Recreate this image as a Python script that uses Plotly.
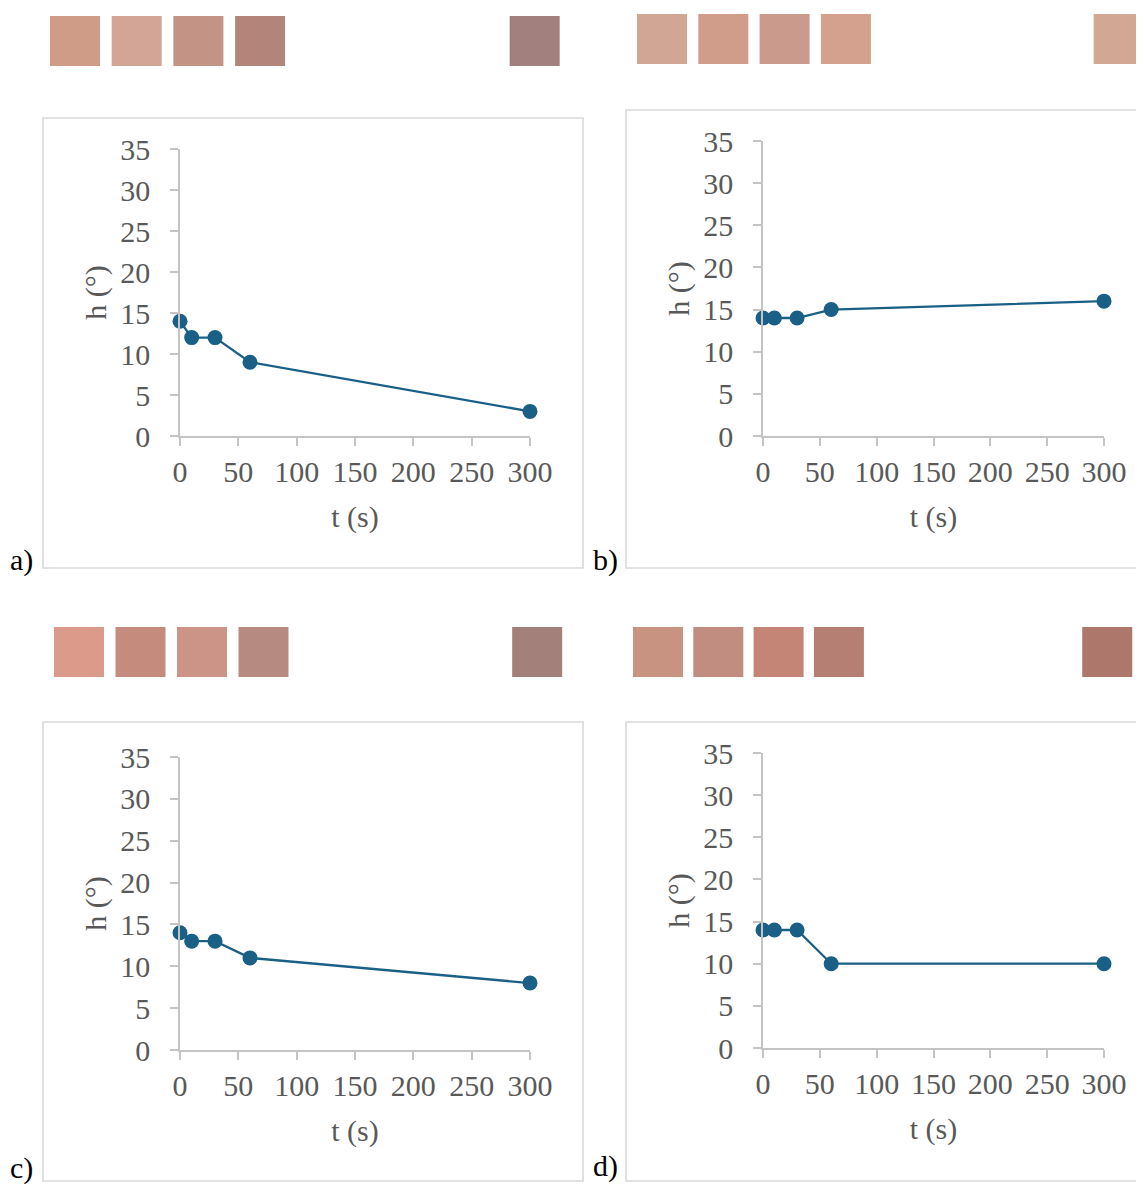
import plotly.graph_objects as go

# the page is shown with an 8px body margin; coordinates below are screen pixels
OFF = 8
W, H = 1144 - OFF, 1184 - OFF

# ---- data ----
t_values = [0, 10, 30, 60, 300]
h_a = [14, 12, 12, 9, 3]
h_b = [14, 14, 14, 15, 16]
h_c = [14, 13, 13, 11, 8]
h_d = [14, 14, 14, 10, 10]
panel_labels = ["a)", "b)", "c)", "d)"]
x_title = "t (s)"
y_title = "h (°)"
x_ticks = [0, 50, 100, 150, 200, 250, 300]
y_ticks = [0, 5, 10, 15, 20, 25, 30, 35]

swatch_slots = [0, 1, 2, 3, 7.45]
swatch_a = ["#CF9C87", "#D2A597", "#C39386", "#B38479", "#A2807D"]
swatch_b = ["#D2A694", "#D19D8B", "#CA9A8C", "#D3A18E", "#D2A894"]
swatch_c = ["#DC9B8A", "#C58C7E", "#CC9486", "#B68A80", "#A4807A"]
swatch_d = ["#C89380", "#C08D80", "#C48476", "#B67F74", "#AD776C"]

series = [h_a, h_b, h_c, h_d]
swatches = [swatch_a, swatch_b, swatch_c, swatch_d]

# ---- layout geometry (screen pixels) ----
plot_px = [(180, 530, 149, 436), (763, 1104, 141, 436),
           (180, 530, 757, 1050), (763, 1104, 753, 1048)]
box_px = [(43, 583, 118, 568), (626, 1150, 110, 568),
          (43, 583, 722, 1181), (626, 1150, 722, 1181)]
label_px = [(22, 560), (605, 560), (22, 1168), (605, 1166)]
swatch_row = [(75, 41, 61.7), (662, 39, 61.3), (79, 652, 61.5), (658, 652, 60.3)]

LINE = "#1A6086"
AX = "#C4C4C4"
TXT = "#595959"
FONT = "Liberation Serif"
FS = 30

def px_x(p):
    return (p - OFF) / W

def px_y(p):
    return 1 - (p - OFF) / H

fig = go.Figure()
layout = dict(
    width=W, height=H, margin=dict(l=0, r=0, t=0, b=0, pad=0, autoexpand=False),
    paper_bgcolor="white", plot_bgcolor="rgba(0,0,0,0)",
    showlegend=False, font=dict(family=FONT, color=TXT, size=FS),
)
shapes = []
annotations = []

for i in range(4):
    n = i + 1
    xa = "x" if n == 1 else f"x{n}"
    ya = "y" if n == 1 else f"y{n}"
    x0, x1, yt, yb = plot_px[i]
    fig.add_trace(go.Scatter(
        x=t_values, y=series[i], xaxis=xa, yaxis=ya, mode="lines+markers",
        line=dict(color=LINE, width=2.3),
        marker=dict(color=LINE, size=15), cliponaxis=False,
    ))
    common_axis = dict(
        showgrid=False, zeroline=False, showline=True, linecolor=AX, linewidth=1.6,
        ticks="outside", ticklen=8, tickcolor=AX, tickwidth=1.6, automargin=False,
        tickfont=dict(family=FONT, size=FS, color=TXT), fixedrange=True,
    )
    layout["xaxis" if n == 1 else f"xaxis{n}"] = dict(
        common_axis, domain=[px_x(x0), px_x(x1)], range=[0, 300],
        tickvals=x_ticks, anchor=ya, ticklabelstandoff=0,
        title=dict(text=x_title, standoff=19, font=dict(family=FONT, size=FS, color=TXT)),
    )
    layout["yaxis" if n == 1 else f"yaxis{n}"] = dict(
        common_axis, domain=[px_y(yb), px_y(yt)], range=[0, 35],
        tickvals=y_ticks, anchor=xa, ticklabelstandoff=14,
        title=dict(text=y_title, standoff=5, font=dict(family=FONT, size=FS, color=TXT)),
    )

    m = n + 4
    sx = f"x{m}"
    sy = f"y{m}"
    c0, cy, sp = swatch_row[i]
    lo, hi = -0.5, 7.6
    left_px = c0 + lo * sp
    right_px = min(W + OFF, c0 + hi * sp)
    fig.add_trace(go.Scatter(
        x=swatch_slots, y=[0.5] * len(swatch_slots), xaxis=sx, yaxis=sy,
        mode="markers", cliponaxis=False,
        marker=dict(symbol="square", size=50, color=swatches[i], line=dict(width=0)),
    ))
    layout[f"xaxis{m}"] = dict(
        domain=[px_x(left_px), px_x(right_px)],
        range=[lo, lo + (right_px - left_px) / sp],
        visible=False, fixedrange=True, anchor=sy, automargin=False,
    )
    layout[f"yaxis{m}"] = dict(
        domain=[px_y(cy + 26), px_y(cy - 26)], range=[0, 1],
        visible=False, fixedrange=True, anchor=sx, automargin=False,
    )

    bx0, bx1, by0, by1 = box_px[i]
    shapes.append(dict(
        type="rect", xref="paper", yref="paper", layer="below",
        x0=px_x(bx0), x1=px_x(bx1), y0=px_y(by1), y1=px_y(by0),
        line=dict(color="#D9D9D9", width=1.6), fillcolor="rgba(0,0,0,0)",
    ))
    lx, ly = label_px[i]
    annotations.append(dict(
        text=panel_labels[i], xref="paper", yref="paper", x=px_x(lx), y=px_y(ly),
        showarrow=False, xanchor="center", yanchor="middle",
        font=dict(family=FONT, size=FS, color="#000000"),
    ))

layout["shapes"] = shapes
layout["annotations"] = annotations
fig.update_layout(**layout)
fig.write_html("out.html")
